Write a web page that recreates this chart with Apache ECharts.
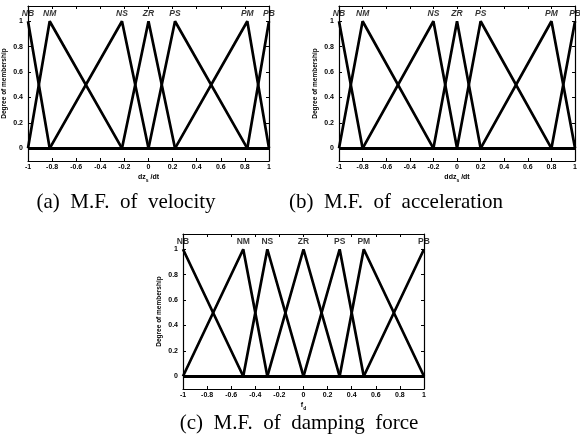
<!DOCTYPE html>
<html>
<head>
<meta charset="utf-8">
<script src="https://cdn.jsdelivr.net/npm/echarts@6/dist/echarts.min.js"></script>
<style>
html,body{margin:0;padding:0;background:#fff;}
#chart{width:580px;height:445px;}
</style>
</head>
<body>
<div id="chart"></div>
<script>
// ---- data ----
const xTicks = [-1, -0.8, -0.6, -0.4, -0.2, 0, 0.2, 0.4, 0.6, 0.8, 1];
const yTicks = [0, 0.2, 0.4, 0.6, 0.8, 1];
const mfNames = ['NB', 'NM', 'NS', 'ZR', 'PS', 'PM', 'PB'];
// peak positions of the triangular membership functions (feet at neighbouring peaks)
const velocityPeaks = [-1, -0.82, -0.22, 0, 0.22, 0.82, 1];
const accelerationPeaks = [-1, -0.8, -0.2, 0, 0.2, 0.8, 1];
const dampingForcePeaks = [-1, -0.5, -0.3, 0, 0.3, 0.5, 1];
const captions = ['(a)  M.F.  of  velocity', '(b)  M.F.  of  acceleration', '(c)  M.F.  of  damping  force'];

// ---- layout ----
const grids = [
  {left: 28, top: 6, width: 241, height: 155},
  {left: 339, top: 6, width: 240, height: 155},
  {left: 183, top: 234, width: 241, height: 155}
];
const xNames = [
  '{a|dz}{s|s}{a| /dt}',
  '{a|ddz}{s|s}{a| /dt}',
  '{a|f}{s|d}'
];
const peaksList = [velocityPeaks, accelerationPeaks, dampingForcePeaks];
const italicLabels = [true, true, false];

const tickFont = {fontSize: 7, fontWeight: 'bold', color: '#000', fontFamily: 'Liberation Sans'};
const xAxes = [], yAxes = [], series = [];

function mfPoints(peaks, i) {
  const pts = [];
  const p = peaks[i];
  const lf = i > 0 ? peaks[i - 1] : null;
  const rf = i < peaks.length - 1 ? peaks[i + 1] : null;
  if (lf !== null) {
    if (lf > peaks[0]) pts.push([peaks[0], 0]);
    pts.push([lf, 0]);
  }
  pts.push([p, 1]);
  if (rf !== null) {
    pts.push([rf, 0]);
    if (rf < peaks[peaks.length - 1]) pts.push([peaks[peaks.length - 1], 0]);
  }
  return pts;
}

grids.forEach((g, gi) => {
  xAxes.push({
    gridIndex: gi, type: 'value', min: -1, max: 1, position: 'bottom',
    axisLine: {onZero: false, lineStyle: {color: '#000', width: 1.2}},
    axisTick: {inside: true, length: 3, customValues: xTicks, lineStyle: {color: '#000'}},
    axisLabel: {customValues: xTicks, margin: 3, formatter: v => String(+(+v).toFixed(1)), ...tickFont},
    splitLine: {show: false},
    name: xNames[gi], nameLocation: 'middle', nameGap: 11,
    nameTextStyle: {fontSize: 7, fontWeight: 'bold', color: '#000',
      rich: {a: {fontSize: 7, fontWeight: 'bold', fontFamily: 'Liberation Sans'},
             s: {fontSize: 5, fontWeight: 'bold', verticalAlign: 'bottom', padding: [6, 0, 0, 0], fontFamily: 'Liberation Sans'}}}
  });
  xAxes.push({
    gridIndex: gi, type: 'value', min: -1, max: 1, position: 'top',
    axisLine: {onZero: false, lineStyle: {color: '#000', width: 1.2}},
    axisTick: {inside: true, length: 3, customValues: xTicks, lineStyle: {color: '#000'}},
    axisLabel: {show: false}, splitLine: {show: false}
  });
  yAxes.push({
    gridIndex: gi, type: 'value', min: -0.1, max: 1.12, position: 'left',
    axisLine: {onZero: false, lineStyle: {color: '#000', width: 1.2}},
    axisTick: {inside: true, length: 3, customValues: yTicks, lineStyle: {color: '#000'}},
    axisLabel: {customValues: yTicks, margin: 5, formatter: v => String(+(+v).toFixed(1)), ...tickFont},
    splitLine: {show: false},
    name: 'Degree of membership', nameLocation: 'middle', nameGap: 20,
    nameTextStyle: {fontSize: 6.5, fontWeight: 'bold', color: '#000', fontFamily: 'Liberation Sans'}
  });
  yAxes.push({
    gridIndex: gi, type: 'value', min: -0.1, max: 1.12, position: 'right',
    axisLine: {onZero: false, lineStyle: {color: '#000', width: 1.2}},
    axisTick: {inside: true, length: 3, customValues: yTicks, lineStyle: {color: '#000'}},
    axisLabel: {show: false}, splitLine: {show: false}
  });
  const peaks = peaksList[gi];
  mfNames.forEach((nm, i) => {
    series.push({
      type: 'line', name: nm, xAxisIndex: gi * 2, yAxisIndex: gi * 2,
      data: mfPoints(peaks, i), symbol: 'none', silent: true,
      lineStyle: {color: '#000', width: 2.7}, animation: false
    });
  });
  series.push({
    type: 'scatter', xAxisIndex: gi * 2, yAxisIndex: gi * 2, symbolSize: 0, silent: true,
    data: mfNames.map((nm, i) => ({name: nm, value: [peaks[i], 1]})),
    label: {show: true, position: 'top', distance: 3, formatter: p => p.name,
      fontSize: 8.5, fontWeight: 'bold', fontStyle: italicLabels[gi] ? 'italic' : 'normal',
      color: '#000', fontFamily: 'Liberation Sans'},
    animation: false
  });
});

const chart = echarts.init(document.getElementById('chart'), null, {renderer: 'canvas'});
chart.setOption({
  backgroundColor: '#fff',
  animation: false,
  grid: grids,
  xAxis: xAxes,
  yAxis: yAxes,
  series: series,
  graphic: [
    {type: 'text', x: 126, y: 202, style: {text: captions[0], font: '21px "Liberation Serif"', textAlign: 'center', textVerticalAlign: 'middle', fill: '#000'}},
    {type: 'text', x: 396, y: 202, style: {text: captions[1], font: '21px "Liberation Serif"', textAlign: 'center', textVerticalAlign: 'middle', fill: '#000'}},
    {type: 'text', x: 299, y: 423, style: {text: captions[2], font: '21px "Liberation Serif"', textAlign: 'center', textVerticalAlign: 'middle', fill: '#000'}}
  ]
});
</script>
</body>
</html>
